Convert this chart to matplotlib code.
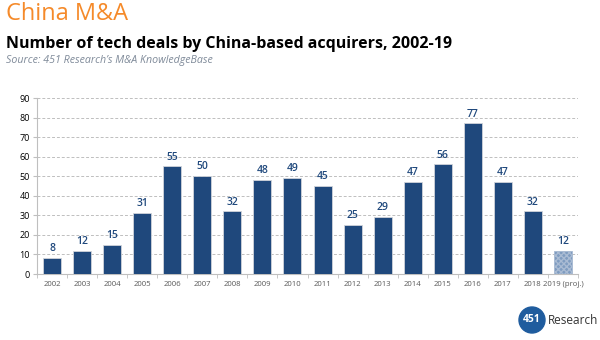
import matplotlib
matplotlib.use("Agg")
import matplotlib.pyplot as plt
from matplotlib.patches import Circle
import numpy as np

plt.rcParams['font.family'] = ['Open Sans', 'DejaVu Sans']

years = ["2002", "2003", "2004", "2005", "2006", "2007", "2008", "2009", "2010",
         "2011", "2012", "2013", "2014", "2015", "2016", "2017", "2018", "2019 (proj.)"]
deals = [8, 12, 15, 31, 55, 50, 32, 48, 49, 45, 25, 29, 47, 56, 77, 47, 32, 12]
yticks = [0, 10, 20, 30, 40, 50, 60, 70, 80, 90]

bar_color = "#1F487C"
proj_color = "#7F9CC0"
label_color = "#1F487C"

fig = plt.figure(figsize=(6, 3.4), dpi=100)
fig.patch.set_facecolor("white")

fig.text(0.010, 0.995, "China M&A", color="#F58A2A", fontsize=17, va="top", ha="left")
fig.text(0.010, 0.893, "Number of tech deals by China-based acquirers, 2002-19",
         color="black", fontsize=11.5, fontweight="bold", va="top", ha="left")
fig.text(0.010, 0.838, "Source: 451 Research\u2019s M&A KnowledgeBase", color="#7F8A99",
         fontsize=7.7, style="italic", va="top", ha="left")

ax = fig.add_axes([37/600, 1-274/340, (578-37)/600, (274-98)/340])
x = np.arange(len(years))
colors = [bar_color] * (len(years) - 1) + [proj_color]
bars = ax.bar(x, deals, width=0.6, color=colors, edgecolor="#D0D4DA", linewidth=0.6, zorder=3)
bars[-1].set_hatch("xxxxxx")
bars[-1].set_edgecolor("#A9BBD3")

for xi, v in zip(x, deals):
    ax.text(xi, v + 2, str(v), ha="center", va="bottom", fontsize=7.5,
            fontweight="semibold", color=label_color)

ax.set_ylim(0, 90)
ax.set_xlim(-0.5, len(years) - 0.5)
ax.set_yticks(yticks)
ax.set_yticklabels([str(t) for t in yticks], fontsize=6.5, color="black")
ax.set_xticks(x)
ax.set_xticklabels(years, fontsize=5.6, color="#595959")
ax.tick_params(axis="x", length=0, pad=5)
ax.set_xticks(np.arange(-0.5, len(years), 1), minor=True)
ax.tick_params(axis="x", which="minor", length=3, color="#BFBFBF")
ax.tick_params(axis="y", length=3, color="#BFBFBF", pad=2)
ax.yaxis.grid(True, linestyle=(0, (3, 2)), color="#BFBFBF", linewidth=0.7, zorder=0)
for s in ["top", "right"]:
    ax.spines[s].set_visible(False)
ax.spines["left"].set_color("#BFBFBF")
ax.spines["bottom"].set_color("#BFBFBF")

# logo (axes in pixel units: 100 x 40 px)
lax = fig.add_axes([500/600, 0, 100/600, 40/340])
lax.set_xlim(0, 100)
lax.set_ylim(0, 40)
lax.axis("off")
lax.add_patch(Circle((32, 20), 13, color="#1F5C9E"))
lax.text(32, 20, "451", color="white", fontsize=7.5, fontweight="bold", ha="center", va="center")
lax.text(48, 20, "Research", color="#333333", fontsize=8.5, ha="left", va="center")

fig.savefig("out.png", dpi=100, facecolor="white")
